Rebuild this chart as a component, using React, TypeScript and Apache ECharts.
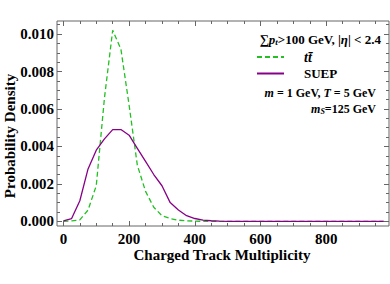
import React, { useEffect, useRef } from "react";
import * as echarts from "echarts";

const multiplicity = [
  0, 25, 50, 75, 100, 125, 150, 175, 200, 225, 250, 275, 300, 325, 350, 375, 400, 425, 450, 475,
  500, 525, 550, 575, 600, 625, 650, 675, 700, 725, 750, 775, 800, 825, 850, 875, 900, 925, 950, 975,
];
const ttbarDensity = [
  0.0, 0.00002, 0.00008, 0.0006, 0.0019, 0.0066, 0.0102, 0.0092, 0.0062, 0.003, 0.0016, 0.00075,
  0.0003, 0.00015, 0.00006, 0.00003, 0.00001, 0, 0, 0, 0, 0, 0, 0, 0, 0, 0, 0, 0, 0, 0, 0, 0, 0, 0,
  0, 0, 0, 0, 0,
];
const suepDensity = [
  0.00002, 0.00015, 0.0011, 0.0028, 0.0038, 0.0044, 0.0049, 0.0049, 0.0046, 0.0039, 0.0032, 0.0025,
  0.0019, 0.001, 0.0006, 0.0003, 0.00015, 0.00006, 0.00003, 0.00001, 0, 0, 0, 0, 0, 0, 0, 0, 0, 0,
  0, 0, 0, 0, 0, 0, 0, 0, 0, 0,
];
const xTicks = [0, 200, 400, 600, 800];
const yTicks = [0, 0.002, 0.004, 0.006, 0.008, 0.01];

const X_MIN = -19.5;
const X_MAX = 991;
const Y_MIN = -0.00025;
const Y_MAX = 0.0107;

const FONT = "Liberation Serif";
const FRAME = "#666";
const GREEN = "#22c022";
const PURPLE = "#880088";

function minorTicks(lo: number, hi: number, step: number) {
  const out: number[] = [];
  for (let i = Math.ceil(lo / step); i * step <= hi + 1e-12; i++) out.push(+(i * step).toFixed(6));
  return out;
}

export default function App() {
  const ref = useRef<HTMLDivElement>(null);
  useEffect(() => {
    if (!ref.current) return;
    const chart = echarts.init(ref.current, null, { renderer: "svg" });
    const xMinor = minorTicks(0, 975, 50);
    const yMinor = minorTicks(0, 0.0105, 0.0005);

    const xAxisBase = (position: string, ticks: number[], len: number, labels: boolean) => ({
      type: "value",
      min: X_MIN,
      max: X_MAX,
      position,
      axisLine: { show: false, onZero: false },
      splitLine: { show: false },
      axisTick: {
        show: true,
        inside: true,
        length: len,
        customValues: ticks,
        lineStyle: { color: FRAME, width: 1 },
      },
      axisLabel: labels
        ? {
            show: true,
            customValues: ticks,
            margin: 5,
            fontFamily: FONT,
            fontWeight: "bold",
            fontSize: 15,
            color: "#000",
            formatter: (v: number) => String(Math.round(v)),
          }
        : { show: false },
    });
    const yAxisBase = (position: string, ticks: number[], len: number, labels: boolean) => ({
      type: "value",
      min: Y_MIN,
      max: Y_MAX,
      position,
      axisLine: { show: false, onZero: false },
      splitLine: { show: false },
      axisTick: {
        show: true,
        inside: true,
        length: len,
        customValues: ticks,
        lineStyle: { color: FRAME, width: 1 },
      },
      axisLabel: labels
        ? {
            show: true,
            customValues: ticks,
            margin: 3,
            fontFamily: FONT,
            fontWeight: "bold",
            fontSize: 15,
            color: "#000",
            formatter: (v: number) => v.toFixed(3),
          }
        : { show: false },
    });

    chart.setOption({
      animation: false,
      backgroundColor: "#fff",
      grid: {
        left: 57,
        top: 21,
        width: 332,
        height: 205,
        show: true,
        borderColor: FRAME,
        borderWidth: 1,
        backgroundColor: "transparent",
      },
      xAxis: [
        xAxisBase("bottom", xTicks, 5, true),
        xAxisBase("bottom", xMinor, 3, false),
        xAxisBase("top", xTicks, 5, false),
        xAxisBase("top", xMinor, 3, false),
      ],
      yAxis: [
        yAxisBase("left", yTicks, 5, true),
        yAxisBase("left", yMinor, 3, false),
        yAxisBase("right", yTicks, 5, false),
        yAxisBase("right", yMinor, 3, false),
      ],
      legend: {
        orient: "vertical",
        left: 256,
        top: 50,
        itemWidth: 27,
        itemHeight: 14,
        itemGap: 3,
        padding: 0,
        itemStyle: { opacity: 0 },
        data: ["ttbar", "SUEP"],
        formatter: (name: string) => (name === "ttbar" ? "{i|tt\u0304}" : "{b|SUEP}"),
        textStyle: {
          padding: [0, 0, 0, 15],
          rich: {
            i: { fontFamily: FONT, fontWeight: "bold", fontStyle: "italic", fontSize: 14, color: "#000" },
            b: { fontFamily: FONT, fontWeight: "bold", fontSize: 13, color: "#000" },
          },
        },
      },
      series: [
        {
          name: "ttbar",
          type: "line",
          symbol: "none",
          showSymbol: false,
          xAxisIndex: 0,
          yAxisIndex: 0,
          data: multiplicity.map((m, i) => [m, ttbarDensity[i]]),
          lineStyle: { color: GREEN, width: 1.3, type: [5, 3] },
          itemStyle: { color: GREEN },
        },
        {
          name: "SUEP",
          type: "line",
          symbol: "none",
          showSymbol: false,
          xAxisIndex: 0,
          yAxisIndex: 0,
          data: multiplicity.map((m, i) => [m, suepDensity[i]]),
          lineStyle: { color: PURPLE, width: 1.3 },
          itemStyle: { color: PURPLE },
        },
      ],
      graphic: [
        {
          type: "text",
          x: 10,
          y: 136,
          rotation: Math.PI / 2,
          style: {
            text: "Probability Density",
            fontFamily: FONT,
            fontWeight: "bold",
            fontSize: 15,
            fill: "#000",
            align: "center",
            verticalAlign: "middle",
          },
        },
        {
          type: "text",
          x: 222,
          y: 255,
          style: {
            text: "Charged Track Multiplicity",
            fontFamily: FONT,
            fontWeight: "bold",
            fontSize: 15,
            fill: "#000",
            align: "center",
            verticalAlign: "middle",
          },
        },
        {
          type: "text",
          x: 381,
          y: 39,
          style: {
            text: "{a|\u2211}{i|p}{s|t}{a|>100 GeV, |}{i|\u03b7}{a|| < 2.4}",
            align: "right",
            verticalAlign: "middle",
            rich: {
              a: { fontFamily: FONT, fontWeight: "bold", fontSize: 13, fill: "#000" },
              i: { fontFamily: FONT, fontWeight: "bold", fontStyle: "italic", fontSize: 13, fill: "#000" },
              s: {
                fontFamily: FONT,
                fontWeight: "bold",
                fontStyle: "italic",
                fontSize: 9,
                fill: "#000",
                padding: [6, 0, 0, 0],
              },
            },
          },
        },
        {
          type: "text",
          x: 376,
          y: 93,
          style: {
            text: "{i|m}{a| = 1 GeV, }{i|T}{a| = 5 GeV}",
            align: "right",
            verticalAlign: "middle",
            rich: {
              a: { fontFamily: FONT, fontWeight: "bold", fontSize: 12, fill: "#000" },
              i: { fontFamily: FONT, fontWeight: "bold", fontStyle: "italic", fontSize: 12, fill: "#000" },
            },
          },
        },
        {
          type: "text",
          x: 376,
          y: 109,
          style: {
            text: "{i|m}{s|S}{a|=125 GeV}",
            align: "right",
            verticalAlign: "middle",
            rich: {
              a: { fontFamily: FONT, fontWeight: "bold", fontSize: 12, fill: "#000" },
              i: { fontFamily: FONT, fontWeight: "bold", fontStyle: "italic", fontSize: 12, fill: "#000" },
              s: {
                fontFamily: FONT,
                fontWeight: "bold",
                fontStyle: "italic",
                fontSize: 8,
                fill: "#000",
                padding: [5, 0, 0, 0],
              },
            },
          },
        },
      ],
    });
    return () => chart.dispose();
  }, []);
  return <div ref={ref} style={{ width: 390, height: 284, position: "absolute", left: 0, top: 0 }} />;
}
